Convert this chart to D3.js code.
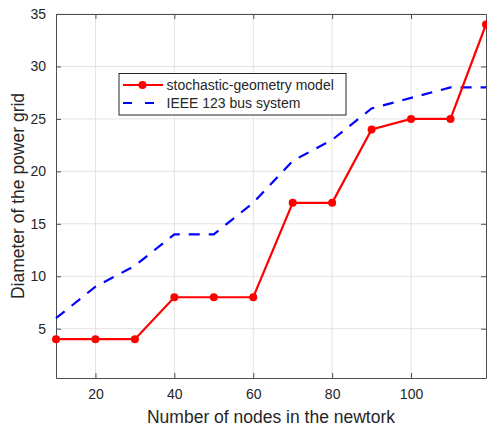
<!DOCTYPE html>
<html>
<head>
<meta charset="utf-8">
<script src="https://cdn.jsdelivr.net/npm/d3@7"></script>
<style>
  body { margin: 0; background: #fff; }
  text { font-family: "Liberation Sans", Arial, Helvetica, sans-serif; fill: #262626; }
</style>
</head>
<body>
<svg id="chart"></svg>
<script>
const WIDTH = 487;
const HEIGHT = 428;

// Data.
const nodes = [10, 20, 30, 40, 50, 60, 70, 80, 90, 100, 110, 119];
const stochastic = [4, 4, 4, 8, 8, 8, 17, 17, 24, 25, 25, 34];
const ieee123 = [6, 9, 11, 14, 14, 17, 21, 23, 26, 27, 28, 28];
const xTicks = [20, 40, 60, 80, 100];
const yTicks = [5, 10, 15, 20, 25, 30, 35];
const seriesNames = ['stochastic-geometry model', 'IEEE 123 bus system'];

const margin = {top: 14, right: 1, bottom: 50, left: 56};
const innerW = WIDTH - margin.left - margin.right;
const innerH = HEIGHT - margin.top - margin.bottom;

const svg = d3.select('#chart')
  .attr('width', WIDTH)
  .attr('height', HEIGHT);

const g = svg.append('g')
  .attr('transform', `translate(${margin.left},${margin.top})`);

const x = d3.scaleLinear().domain([10, 119]).range([0, innerW]);
const y = d3.scaleLinear().domain([0.3, 35]).range([innerH, 0]);

// Grid lines.
g.append('g')
  .selectAll('line')
  .data(xTicks)
  .join('line')
  .attr('x1', d => x(d)).attr('x2', d => x(d))
  .attr('y1', 0).attr('y2', innerH)
  .attr('stroke', '#e3e3e3');
g.append('g')
  .selectAll('line')
  .data(yTicks)
  .join('line')
  .attr('x1', 0).attr('x2', innerW)
  .attr('y1', d => y(d)).attr('y2', d => y(d))
  .attr('stroke', '#e3e3e3');

// Axes with inward ticks, box on all four sides.
function styleAxis(sel) {
  sel.select('.domain').attr('stroke', '#4d4d4d');
  sel.selectAll('.tick line').attr('stroke', '#4d4d4d');
  sel.selectAll('.tick text').style('font-size', '14px').attr('fill', '#262626');
}

g.append('g')
  .attr('transform', `translate(0,${innerH})`)
  .call(d3.axisBottom(x).tickValues(xTicks).tickSizeInner(-5).tickSizeOuter(0).tickPadding(11))
  .call(styleAxis);
g.append('g')
  .call(d3.axisTop(x).tickValues(xTicks).tickSizeInner(-5).tickSizeOuter(0).tickFormat(''))
  .call(styleAxis);
g.append('g')
  .call(d3.axisLeft(y).tickValues(yTicks).tickSizeInner(-5).tickSizeOuter(0).tickPadding(10))
  .call(styleAxis);
g.append('g')
  .attr('transform', `translate(${innerW},0)`)
  .call(d3.axisRight(y).tickValues(yTicks).tickSizeInner(-5).tickSizeOuter(0).tickFormat(''))
  .call(styleAxis);

// Series.
const line = d3.line().x(d => x(d[0])).y(d => y(d[1]));

g.append('path')
  .datum(nodes.map((n, i) => [n, ieee123[i]]))
  .attr('d', line)
  .attr('fill', 'none')
  .attr('stroke', '#0000ff')
  .attr('stroke-width', 2.2)
  .attr('stroke-dasharray', '11,9');

g.append('path')
  .datum(nodes.map((n, i) => [n, stochastic[i]]))
  .attr('d', line)
  .attr('fill', 'none')
  .attr('stroke', '#ff0000')
  .attr('stroke-width', 2.2);

g.append('g')
  .selectAll('circle')
  .data(nodes.map((n, i) => [n, stochastic[i]]))
  .join('circle')
  .attr('cx', d => x(d[0]))
  .attr('cy', d => y(d[1]))
  .attr('r', 4)
  .attr('fill', '#ff0000');

// Axis labels.
svg.append('text')
  .attr('x', margin.left + innerW / 2)
  .attr('y', 423)
  .attr('text-anchor', 'middle')
  .style('font-size', '17.5px')
  .text('Number of nodes in the newtork');

svg.append('text')
  .attr('transform', `translate(24,${margin.top + innerH / 2}) rotate(-90)`)
  .attr('text-anchor', 'middle')
  .style('font-size', '17.5px')
  .text('Diameter of the power grid');

// Legend.
const legend = svg.append('g').attr('transform', 'translate(119,73.5)');
legend.append('rect')
  .attr('width', 227)
  .attr('height', 41.5)
  .attr('fill', '#fff')
  .attr('stroke', '#262626');

legend.append('line')
  .attr('x1', 4).attr('x2', 44).attr('y1', 11.5).attr('y2', 11.5)
  .attr('stroke', '#ff0000').attr('stroke-width', 2.2);
legend.append('circle')
  .attr('cx', 23.5).attr('cy', 11.5).attr('r', 4).attr('fill', '#ff0000');
legend.append('line')
  .attr('x1', 4).attr('x2', 44).attr('y1', 29.5).attr('y2', 29.5)
  .attr('stroke', '#0000ff').attr('stroke-width', 2.2)
  .attr('stroke-dasharray', '9,13');

legend.selectAll('text.entry')
  .data(seriesNames)
  .join('text')
  .attr('class', 'entry')
  .attr('x', 47.5)
  .attr('y', (d, i) => 16.5 + i * 18)
  .style('font-size', '14px')
  .text(d => d);
</script>
</body>
</html>
